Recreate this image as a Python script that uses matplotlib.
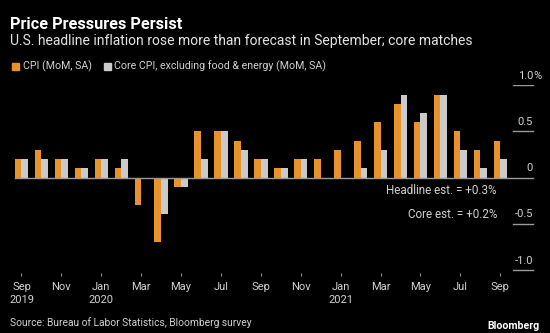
import numpy as np
import matplotlib
matplotlib.use("Agg")
import matplotlib.pyplot as plt
from matplotlib.patches import Rectangle

# Datos (MoM, %), Sep 2019 .. Sep 2021
months = ['Sep', 'Oct', 'Nov', 'Dec', 'Jan', 'Feb', 'Mar', 'Apr', 'May', 'Jun', 'Jul', 'Aug',
          'Sep', 'Oct', 'Nov', 'Dec', 'Jan', 'Feb', 'Mar', 'Apr', 'May', 'Jun', 'Jul', 'Aug', 'Sep']
years = {0: '2019', 4: '2020', 16: '2021'}
cpi = [0.2, 0.3, 0.2, 0.1, 0.2, 0.1, -0.3, -0.7, -0.1, 0.5, 0.5, 0.4,
       0.2, 0.1, 0.2, 0.2, 0.3, 0.4, 0.6, 0.8, 0.6, 0.9, 0.5, 0.3, 0.4]
core = [0.2, 0.2, 0.2, 0.1, 0.2, 0.2, 0.0, -0.4, -0.1, 0.2, 0.5, 0.3,
        0.2, 0.1, 0.2, 0.0, 0.0, 0.1, 0.3, 0.9, 0.7, 0.9, 0.3, 0.1, 0.2]
yticks = [1.0, 0.5, 0.0, -0.5, -1.0]
ylabels = ['1.0', '0.5', '0', '-0.5', '-1.0']

W, H = 550, 333
ORANGE = '#e8922b'
GREY = '#cacaca'
TXT = '#d2d2d2'
plt.rcParams['font.family'] = ['Roboto', 'DejaVu Sans']


def fx(px):
    return px / W


def fy(py):
    return 1 - py / H


fig = plt.figure(figsize=(5.5, 3.33), dpi=100)
fig.patch.set_facecolor('black')

# area del grafico
ax = fig.add_axes([fx(10), fy(272.5), fx(540) - fx(10), (272.5 - 85.3) / H])
ax.set_facecolor('black')
ax.set_xlim(-0.576, 25.99)
ax.set_ylim(-1.03, 1.0)

x = np.arange(len(months))
w = 0.335
ax.bar(x - w / 2, cpi, width=w, color=ORANGE, zorder=2)
ax.bar(x + w / 2, core, width=w, color=GREY, zorder=2)

# linea cero y marcas del eje derecho
xr = 25.64
ax.plot([-0.35, xr], [0, 0], color='#9a9a9a', lw=1, zorder=3)
for v, lab in zip(yticks, ylabels):
    if v != 0:
        ax.plot([xr - 1.0, xr], [v, v], color='#9a9a9a', lw=1)
    ax.annotate(lab, (xr, v), xytext=(0, 3), textcoords='offset points',
                ha='right', va='bottom', color=TXT, fontsize=8)
ax.annotate('%', (xr, 1.0), xytext=(0, 3), textcoords='offset points',
            ha='left', va='bottom', color=TXT, fontsize=8)

# eje x
ticks = x[::2]
labels = []
for i in ticks:
    lab = months[i]
    if i in years:
        lab += '\n' + years[i]
    labels.append(lab)
ax.set_xticks(ticks)
ax.set_xticklabels(labels, color=TXT, fontsize=8, linespacing=1.45, va='top')
ax.tick_params(axis='x', length=2.5, width=0.8, color='#8a8a8a', pad=4)
ax.set_yticks([])
for s in ax.spines.values():
    s.set_visible(False)

# titulos
fig.text(fx(10.5), fy(24.5), 'Price Pressures Persist', color='white', fontsize=11.7,
         fontweight='bold', va='center')
fig.text(fx(10.5), fy(41.5), 'U.S. headline inflation rose more than forecast in September; core matches',
         color='#e4e4e4', fontsize=10.0, va='center')

# leyenda
fig.add_artist(Rectangle((fx(12), fy(69.5)), 6.5 / W, 6.5 / H, color=ORANGE, transform=fig.transFigure))
fig.text(fx(23), fy(66), 'CPI (MoM, SA)', color=TXT, fontsize=7.7, va='center')
fig.add_artist(Rectangle((fx(104), fy(69.5)), 6.5 / W, 6.5 / H, color=GREY, transform=fig.transFigure))
fig.text(fx(114), fy(66), 'Core CPI, excluding food & energy (MoM, SA)', color=TXT, fontsize=7.7, va='center')

# estimaciones
fig.text(fx(497), fy(191), 'Headline est. = +0.3%', color=TXT, fontsize=8.4, ha='right', va='center')
fig.text(fx(497), fy(214), 'Core est. = +0.2%', color=TXT, fontsize=8.4, ha='right', va='center')

# fuente
fig.text(fx(10.5), fy(323), 'Source: Bureau of Labor Statistics, Bloomberg survey', color=TXT,
         fontsize=7.4, va='center')
fig.text(fx(540), fy(326), 'Bloomberg', color='white', fontsize=7.6, fontweight='bold',
         ha='right', va='center')

fig.savefig('out.png', dpi=100, facecolor='black')
